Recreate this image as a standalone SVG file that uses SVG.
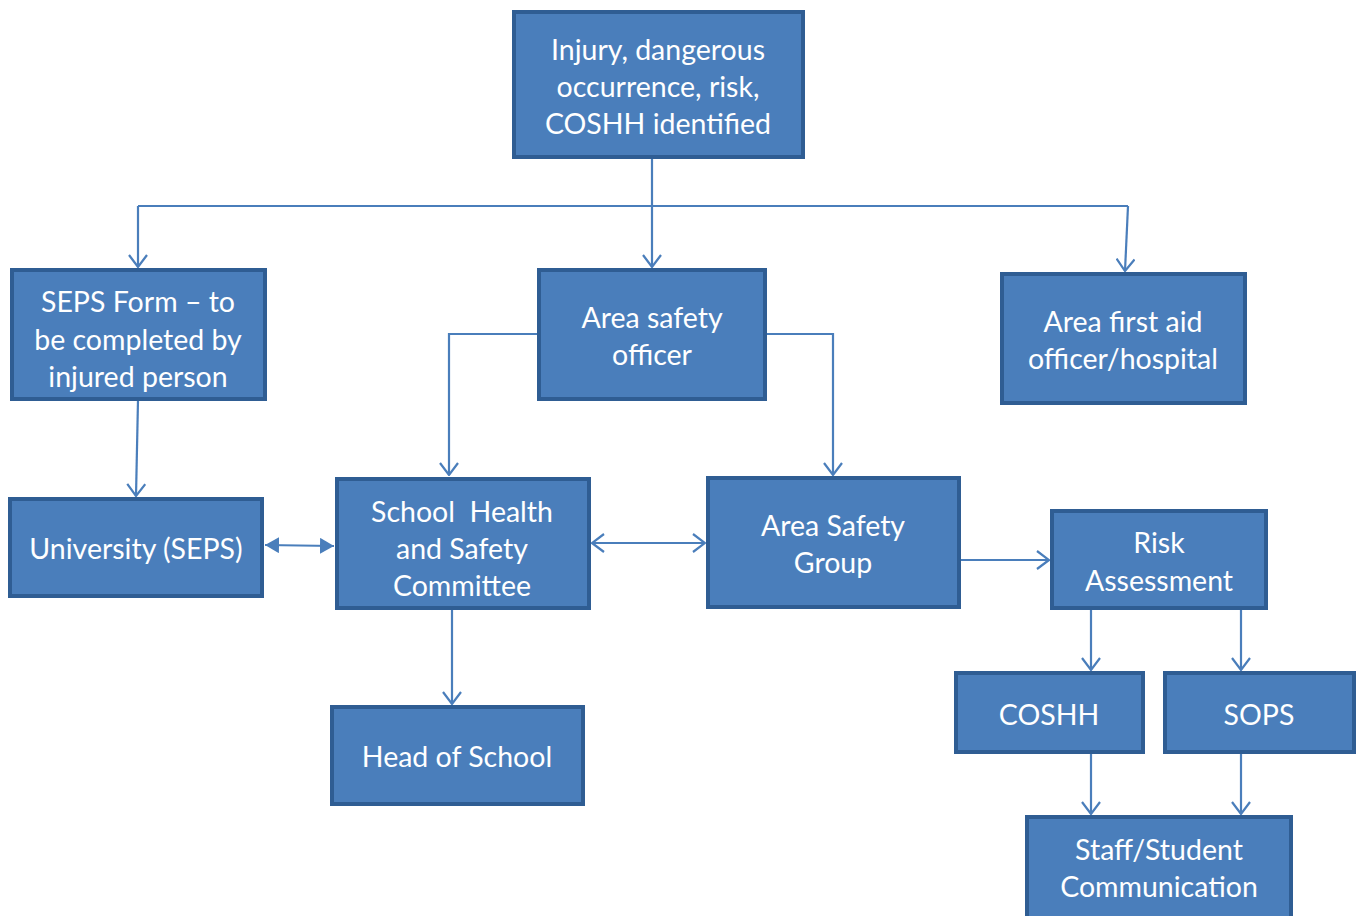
<svg xmlns="http://www.w3.org/2000/svg" width="1364" height="916" viewBox="0 0 1364 916">
  <style>
    .box { fill: #4a7ebb; stroke: #2f5d93; stroke-width: 4; }
    .lbl { fill: #ffffff; font-family: Lato, "Open Sans", sans-serif; font-size: 28.5px; text-anchor: middle; dominant-baseline: central; white-space: pre; }
    .wire { fill: none; stroke: #4a7ebb; stroke-width: 2.2; }
    .open { marker-end: url(#chev); }
  </style>
  <defs>
    <marker id="chev" viewBox="0 0 14 20" refX="13" refY="10" markerWidth="14" markerHeight="20" markerUnits="userSpaceOnUse" orient="auto-start-reverse">
      <path d="M1,1 L13,10 L1,19" fill="none" stroke="#4a7ebb" stroke-width="2.2"/>
    </marker>
    <marker id="tri" viewBox="0 0 14 16" refX="14" refY="8" markerWidth="14" markerHeight="16" markerUnits="userSpaceOnUse" orient="auto-start-reverse">
      <path d="M0,0 L14,8 L0,16 Z" fill="#4a7ebb"/>
    </marker>
    <clipPath id="clip-seps">
      <rect x="14" y="272" width="249" height="125"/>
    </clipPath>
  </defs>
  <rect width="1364" height="916" fill="#ffffff"/>

  <g id="connectors">
    <path class="wire open" d="M652,158 V267"/>
    <path class="wire" d="M138,206 H1128"/>
    <path class="wire open" d="M138,206 V267"/>
    <path class="wire open" d="M1128,206 L1125,271"/>
    <path class="wire open" d="M538,334 H449 V475"/>
    <path class="wire open" d="M766,334 H833 V475"/>
    <path class="wire open" d="M138,400 L136,496"/>
    <path class="wire" d="M265,545 L334,546" marker-start="url(#tri)" marker-end="url(#tri)"/>
    <path class="wire open" d="M592,543 H705" marker-start="url(#chev)"/>
    <path class="wire open" d="M960,560 H1049"/>
    <path class="wire open" d="M1091,609 V670"/>
    <path class="wire open" d="M1241,609 V670"/>
    <path class="wire open" d="M452,609 V704"/>
    <path class="wire open" d="M1091,753 V814"/>
    <path class="wire open" d="M1241,753 V814"/>
  </g>

  <g id="n-trigger">
    <rect class="box" x="514" y="12" width="289" height="145"/>
    <text class="lbl" x="658" y="49">Injury, dangerous</text>
    <text class="lbl" x="658" y="86">occurrence, risk,</text>
    <text class="lbl" x="658" y="123">COSHH identified</text>
  </g>
  <g id="n-seps-form">
    <rect class="box" x="12" y="270" width="253" height="129"/>
    <g clip-path="url(#clip-seps)">
      <text class="lbl" x="138" y="301">SEPS Form – to</text>
      <text class="lbl" x="138" y="339">be completed by</text>
      <text class="lbl" x="138" y="376">injured person</text>
    </g>
  </g>
  <g id="n-area-safety-officer">
    <rect class="box" x="539" y="270" width="226" height="129"/>
    <text class="lbl" x="652" y="317">Area safety</text>
    <text class="lbl" x="652" y="354">officer</text>
  </g>
  <g id="n-first-aid">
    <rect class="box" x="1002" y="274" width="243" height="129"/>
    <text class="lbl" x="1123" y="321">Area first aid</text>
    <text class="lbl" x="1123" y="358">officer/hospital</text>
  </g>
  <g id="n-university">
    <rect class="box" x="10" y="499" width="252" height="97"/>
    <text class="lbl" x="136" y="548">University (SEPS)</text>
  </g>
  <g id="n-school-committee">
    <rect class="box" x="337" y="479" width="252" height="129"/>
    <text class="lbl" x="462" y="511">School  Health</text>
    <text class="lbl" x="462" y="548">and Safety</text>
    <text class="lbl" x="462" y="585">Committee</text>
  </g>
  <g id="n-area-safety-group">
    <rect class="box" x="708" y="478" width="251" height="129"/>
    <text class="lbl" x="833" y="525">Area Safety</text>
    <text class="lbl" x="833" y="562">Group</text>
  </g>
  <g id="n-risk">
    <rect class="box" x="1052" y="511" width="214" height="97"/>
    <text class="lbl" x="1159" y="542">Risk</text>
    <text class="lbl" x="1159" y="580">Assessment</text>
  </g>
  <g id="n-coshh">
    <rect class="box" x="956" y="673" width="187" height="79"/>
    <text class="lbl" x="1049" y="714">COSHH</text>
  </g>
  <g id="n-sops">
    <rect class="box" x="1165" y="673" width="189" height="79"/>
    <text class="lbl" x="1259" y="714">SOPS</text>
  </g>
  <g id="n-head">
    <rect class="box" x="332" y="707" width="251" height="97"/>
    <text class="lbl" x="457" y="756">Head of School</text>
  </g>
  <g id="n-communication">
    <rect class="box" x="1027" y="817" width="264" height="104"/>
    <text class="lbl" x="1159" y="849">Staff/Student</text>
    <text class="lbl" x="1159" y="886">Communication</text>
  </g>
</svg>
